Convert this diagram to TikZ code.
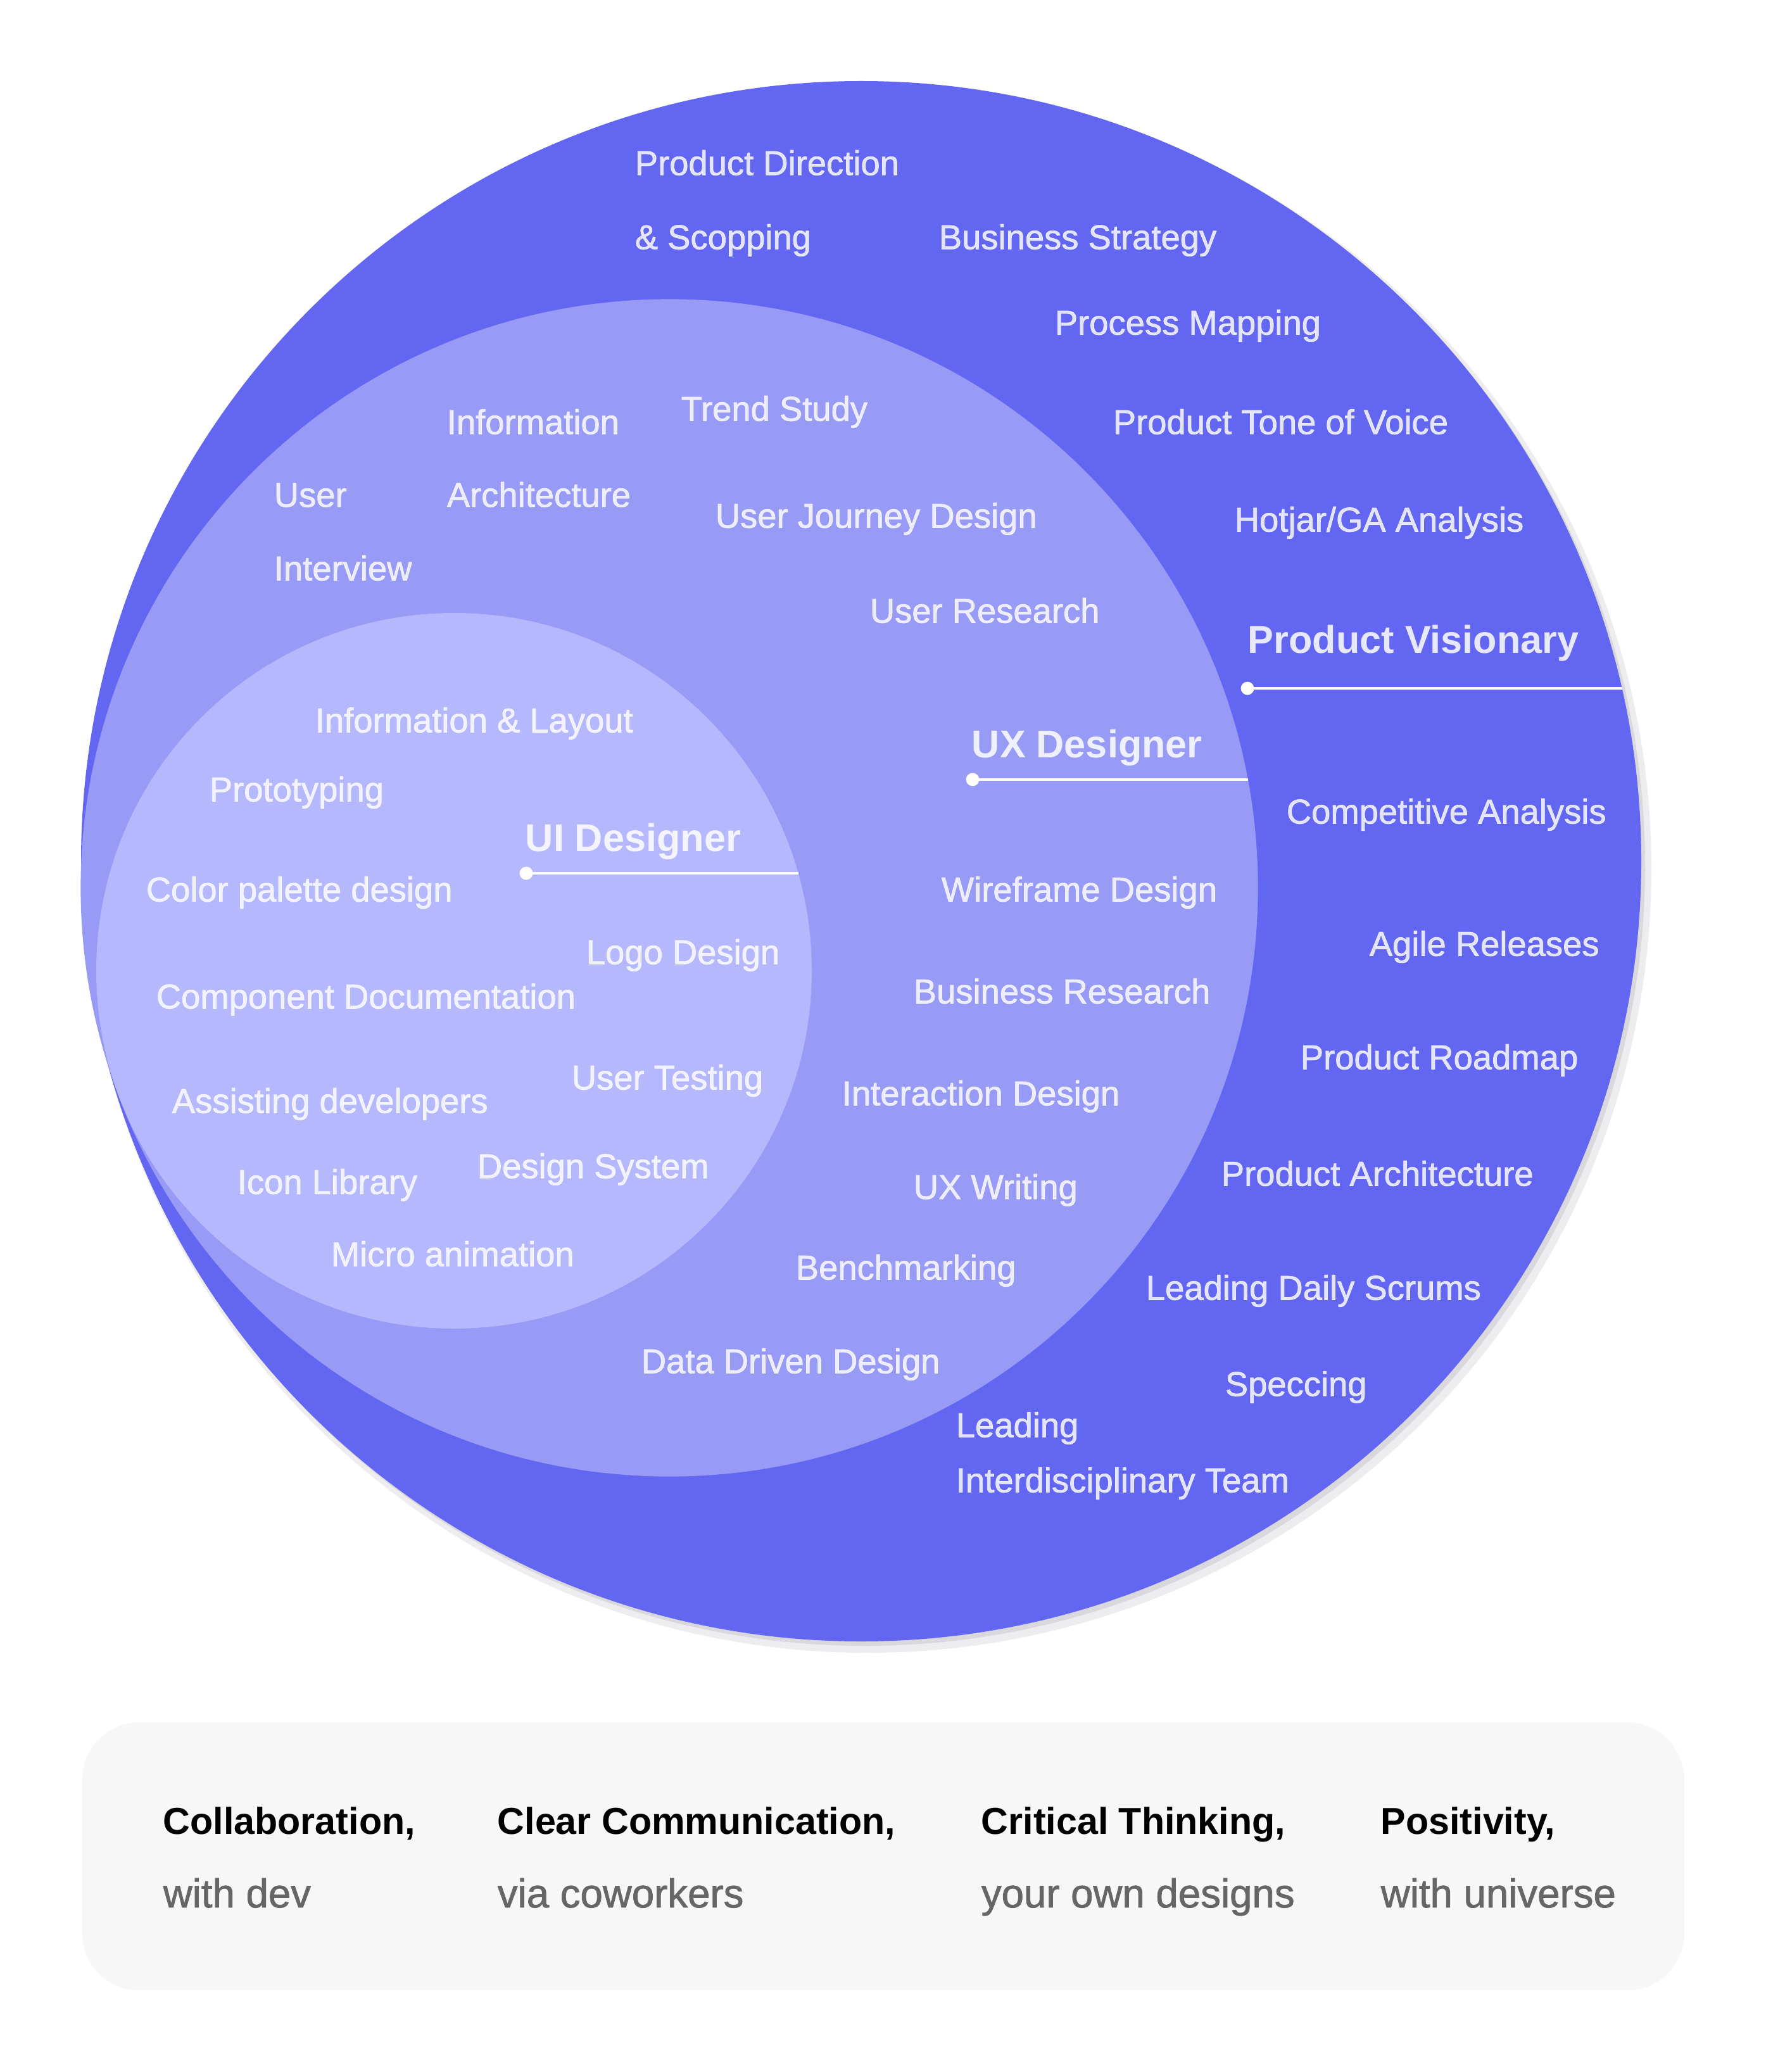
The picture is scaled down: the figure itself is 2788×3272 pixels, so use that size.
\documentclass[tikz,border=0pt]{standalone}
\usepackage{fontspec}
\setmainfont{Liberation Sans}
\newfontfamily\lblfont[FakeBold=1.3]{Liberation Sans}
\definecolor{cOuter}{HTML}{6366F1}
\definecolor{cMid}{HTML}{989BF6}
\definecolor{cIn}{HTML}{B5B8FD}
\definecolor{cShadowA}{HTML}{EDEDEF}
\definecolor{cShadowB}{HTML}{D9D9DD}
\definecolor{cBox}{HTML}{F7F7F7}
\definecolor{cGrey}{HTML}{666666}
\begin{document}
\begin{tikzpicture}[x=0.25pt,y=-0.25pt,
  lbl/.style={anchor=west, inner sep=0pt, text=white, text opacity=0.82,
    font=\lblfont\fontsize{13.6}{16}\selectfont, text height=9.75pt, text depth=0pt},
  role/.style={anchor=west, inner sep=0pt, text=white, text opacity=0.85,
    font=\bfseries\fontsize{15.3}{18}\selectfont, text height=10.95pt, text depth=0pt},
  rule/.style={draw=white, line width=1pt},
  dotmark/.style={fill=white},
  keyword/.style={anchor=base west, inner sep=0pt, text=black, font=\bfseries\fontsize{14.8}{18}\selectfont},
  keynote/.style={anchor=base west, inner sep=0pt, text=cGrey, font=\lblfont\fontsize{15.9}{19}\selectfont}
]
\useasboundingbox[fill=white] (0,0) rectangle (2788,3272);

% circles
\fill[cShadowA] (1370,1372) circle (309.5pt);
\fill[cShadowB] (1366,1367) circle (308pt);
\fill[cOuter] (1360,1360) circle (308pt);
\fill[cMid] (1057,1402) circle (232.4pt);
\fill[cIn] (717,1533) circle (141.25pt);

% outer ring labels
\node[lbl] (pd1) at (1002,257) {Product Direction};
\node[lbl] (pd2) at (1002,374) {\& Scopping};
\node[lbl] (bs) at (1482,374) {Business Strategy};
\node[lbl] (pm) at (1665,509) {Process Mapping};
\node[lbl] (ptv) at (1757,666) {Product Tone of Voice};
\node[lbl] (hga) at (1949,820) {Hotjar/GA Analysis};
\node[role] (pv) at (1970,1010) {Product Visionary};
\node[lbl] (ca) at (2031,1281) {Competitive Analysis};
\node[lbl] (ar) at (2162,1490) {Agile Releases};
\node[lbl] (pr) at (2053,1669) {Product Roadmap};
\node[lbl] (pa) at (1928,1853) {Product Architecture};
\node[lbl] (lds) at (1809,2033) {Leading Daily Scrums};
\node[lbl] (sp) at (1934,2185) {Speccing};
\node[lbl] (lit1) at (1509,2250) {Leading};
\node[lbl] (lit2) at (1509,2337) {Interdisciplinary Team};

% middle ring labels
\node[lbl] (ia1) at (705,666) {Information};
\node[lbl] (ia2) at (705,781) {Architecture};
\node[lbl] (ts) at (1075,645) {Trend Study};
\node[lbl] (ui1) at (432,781) {User};
\node[lbl] (ui2) at (432,897) {Interview};
\node[lbl] (ujd) at (1129,814) {User Journey Design};
\node[lbl] (ur) at (1373,964) {User Research};
\node[role] (ux) at (1534,1175) {UX Designer};
\node[lbl] (wd) at (1486,1404) {Wireframe Design};
\node[lbl] (br) at (1442,1565) {Business Research};
\node[lbl] (id) at (1329,1726) {Interaction Design};
\node[lbl] (uxw) at (1442,1874) {UX Writing};
\node[lbl] (bm) at (1256,2001) {Benchmarking};
\node[lbl] (ddd) at (1012,2149) {Data Driven Design};

% inner circle labels
\node[lbl] (il) at (497,1137) {Information \& Layout};
\node[lbl] (pt) at (330,1246) {Prototyping};
\node[role] (uid) at (829,1323) {UI Designer};
\node[lbl] (cpd) at (230,1404) {Color palette design};
\node[lbl] (ld) at (925,1503) {Logo Design};
\node[lbl] (cd) at (246,1573) {Component Documentation};
\node[lbl] (ut) at (902,1701) {User Testing};
\node[lbl] (ad) at (271,1738) {Assisting developers};
\node[lbl] (ds) at (753,1841) {Design System};
\node[lbl] (il2) at (374,1866) {Icon Library};
\node[lbl] (ma) at (522,1980) {Micro animation};

% role rules
\coordinate (pvdot) at (1970,1087);
\coordinate (pvend) at (2562,1087);
\coordinate (uxdot) at (1536,1231);
\coordinate (uxend) at (1971,1231);
\coordinate (uidot) at (831,1379);
\coordinate (uiend) at (1261,1379);
\draw[rule] (pvdot) -- (pvend);
\draw[rule] (uxdot) -- (uxend);
\draw[rule] (uidot) -- (uiend);
\fill[dotmark] (pvdot) circle (2.6pt);
\fill[dotmark] (uxdot) circle (2.6pt);
\fill[dotmark] (uidot) circle (2.6pt);

% bottom box
\fill[cBox, rounded corners=22.5pt] (130,2720) rectangle (2660,3143);
\node[keyword] (k1) at (257,2896) {Collaboration,};
\node[keynote] (n1) at (257,3012) {with dev};
\node[keyword] (k2) at (785,2896) {Clear Communication,};
\node[keynote] (n2) at (785,3012) {via coworkers};
\node[keyword] (k3) at (1549,2896) {Critical Thinking,};
\node[keynote] (n3) at (1549,3012) {your own designs};
\node[keyword] (k4) at (2180,2896) {Positivity,};
\node[keynote] (n4) at (2180,3012) {with universe};
\end{tikzpicture}
\end{document}
